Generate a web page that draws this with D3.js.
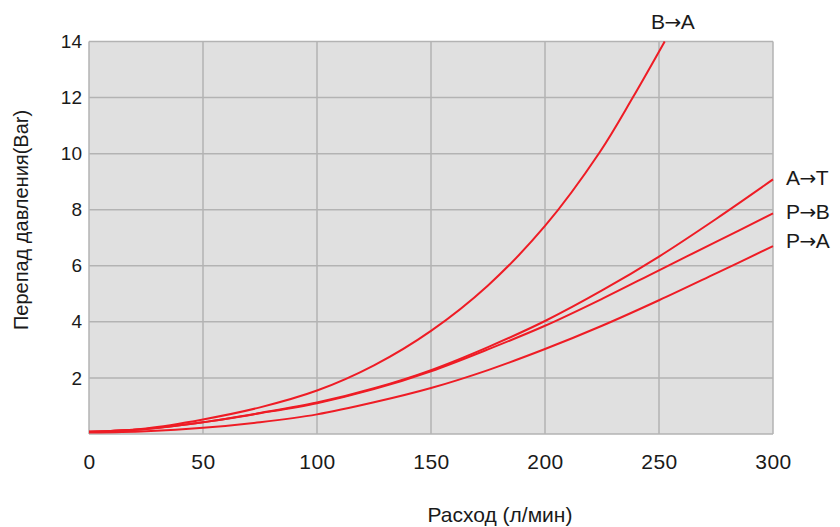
<!DOCTYPE html>
<html>
<head>
<meta charset="utf-8">
<script src="https://cdn.jsdelivr.net/npm/d3@7/dist/d3.min.js"></script>
<style>
  html, body { margin: 0; padding: 0; background: #fff; }
  svg text { font-family: "Liberation Sans", Arial, Helvetica, sans-serif; fill: #1a1a1a; }
</style>
</head>
<body>
<svg id="chart" width="840" height="527"></svg>
<script>
// Flow rate, l/min
const flow = [0, 25, 50, 75, 100, 125, 150, 175, 200, 225, 250, 275, 300];

// Pressure drop, bar, per flow path
const seriesNames = ["B→A", "A→T", "P→B", "P→A"];
const flowBA = [0, 25, 50, 75, 100, 125, 150, 175, 200, 224, 238.5, 252.5];
const valuesBA = [0.08, 0.2, 0.52, 0.95, 1.55, 2.45, 3.68, 5.3, 7.42, 10.05, 12, 14];
const valuesAT = [0.08, 0.18, 0.42, 0.75, 1.12, 1.63, 2.28, 3.1, 4.03, 5.12, 6.33, 7.67, 9.08];
const valuesPB = [0.08, 0.18, 0.42, 0.74, 1.1, 1.6, 2.24, 3.02, 3.86, 4.82, 5.84, 6.85, 7.87];
const valuesPA = [0.05, 0.1, 0.22, 0.42, 0.7, 1.13, 1.64, 2.28, 3.03, 3.86, 4.77, 5.73, 6.7];

const xTicks = [0, 50, 100, 150, 200, 250, 300];
const yTicks = [2, 4, 6, 8, 10, 12, 14];
const xTitle = "Расход (л/мин)";
const yTitle = "Перепад давления(Bar)";

const svg = d3.select("#chart");
const plotLeft = 89, plotRight = 773, plotTop = 41.5, plotBottom = 434;

const x = d3.scaleLinear().domain([0, 300]).range([plotLeft, plotRight]);
const y = d3.scaleLinear().domain([0, 14]).range([plotBottom, plotTop]);

// plot background
svg.append("rect")
  .attr("x", plotLeft).attr("y", plotTop)
  .attr("width", plotRight - plotLeft).attr("height", plotBottom - plotTop)
  .attr("fill", "#e0e0e0");

// grid
const grid = svg.append("g").attr("stroke", "#b3b3b3").attr("stroke-width", 1.5);
grid.selectAll(".vx").data(xTicks).join("line")
  .attr("x1", d => x(d)).attr("x2", d => x(d))
  .attr("y1", plotTop).attr("y2", plotBottom);
grid.selectAll(".hy").data([0].concat(yTicks)).join("line")
  .attr("x1", plotLeft).attr("x2", plotRight)
  .attr("y1", d => y(d)).attr("y2", d => y(d));

// axes (labels only, the frame comes from the grid)
const xAxis = svg.append("g")
  .attr("transform", `translate(0,${plotBottom})`)
  .call(d3.axisBottom(x).tickValues(xTicks).tickSize(0).tickPadding(20));
xAxis.select(".domain").remove();
xAxis.selectAll("text").attr("font-size", 21).attr("letter-spacing", 0.5)
  .attr("fill", "#1a1a1a");

const yAxis = svg.append("g")
  .attr("transform", `translate(${plotLeft},0)`)
  .call(d3.axisLeft(y).tickValues(yTicks).tickSize(0).tickPadding(7));
yAxis.select(".domain").remove();
yAxis.selectAll("text").attr("font-size", 19).attr("fill", "#1a1a1a");

// curves
const line = d3.line().curve(d3.curveCatmullRom.alpha(0.5));
const curves = [
  { name: "B→A", xs: flowBA, ys: valuesBA },
  { name: "A→T", xs: flow, ys: valuesAT },
  { name: "P→B", xs: flow, ys: valuesPB },
  { name: "P→A", xs: flow, ys: valuesPA }
];
svg.append("g").selectAll("path").data(curves).join("path")
  .attr("fill", "none")
  .attr("stroke", "#ee1c25")
  .attr("stroke-width", 2)
  .attr("d", c => line(c.xs.map((f, i) => [x(f), y(c.ys[i])])));

// curve labels: letters in the body font, the arrow in a font with a long thin glyph
const labelPos = {
  "B→A": { x: 651, y: 29 },
  "A→T": { x: 786, y: 185 },
  "P→B": { x: 786, y: 219 },
  "P→A": { x: 786, y: 248 }
};
const labels = svg.append("g").selectAll("text").data(seriesNames).join("text")
  .attr("x", d => labelPos[d].x)
  .attr("y", d => labelPos[d].y)
  .attr("font-size", 21);
labels.each(function (d) {
  const [from, to] = d.split("→");
  const t = d3.select(this);
  t.append("tspan").text(from);
  t.append("tspan").attr("font-family", "DejaVu Sans").attr("font-size", 20)
    .attr("dx", -0.5).text("→");
  t.append("tspan").attr("dx", -0.5).text(to);
});

// axis titles
svg.append("text")
  .attr("x", 500).attr("y", 522)
  .attr("text-anchor", "middle")
  .attr("font-size", 21)
  .text(xTitle);

svg.append("text")
  .attr("transform", "translate(28,220) rotate(-90)")
  .attr("text-anchor", "middle")
  .attr("font-size", 20)
  .text(yTitle);
</script>
</body>
</html>
